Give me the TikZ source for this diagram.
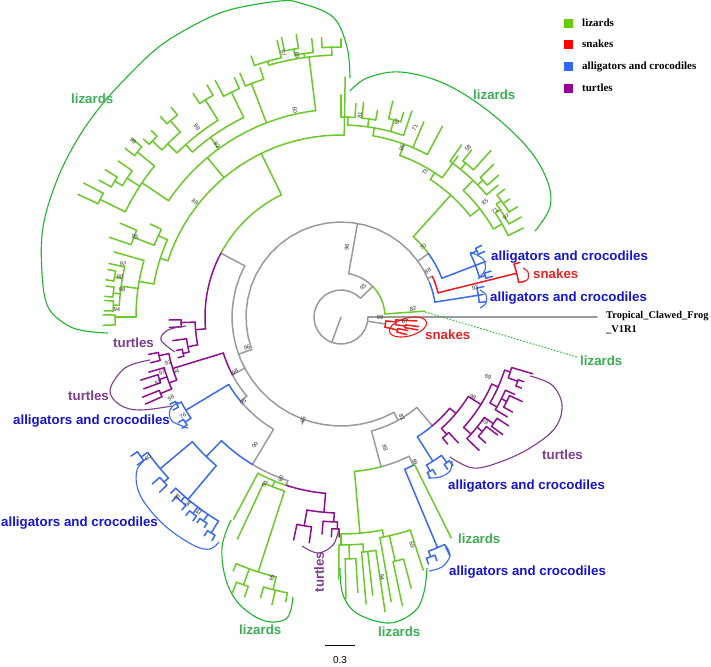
\documentclass[tikz,border=0pt]{standalone}
\usepackage{fontspec}
\setmainfont{Liberation Serif}
\newfontfamily\lsans{Liberation Sans}
\definecolor{grc}{HTML}{9B9B9B}
\definecolor{lzc}{HTML}{6CC92A}
\definecolor{snc}{HTML}{EE1C1C}
\definecolor{alc}{HTML}{3A6AF0}
\definecolor{tuc}{HTML}{8E108E}
\definecolor{lzl}{HTML}{3DAE55}
\definecolor{allab}{HTML}{1515CF}
\definecolor{snl}{HTML}{E52525}
\definecolor{tul}{HTML}{7E3D8E}
\definecolor{lze}{HTML}{1FB52D}
\definecolor{sqlz}{HTML}{66CC00}
\definecolor{sqsn}{HTML}{FF0000}
\definecolor{sqal}{HTML}{3366FF}
\definecolor{sqtu}{HTML}{990099}
\tikzset{
  tl/.style={line width=1.5pt, line cap=round, line join=round},
  elp/.style={line width=1.1pt},
  lab/.style={font=\fontsize{13.3}{15}\selectfont\lsans\bfseries, anchor=west, inner sep=0pt},
  bsl/.style={font=\fontsize{5.8}{6}\selectfont\lsans, text=black!80, inner sep=0pt},
  leg/.style={font=\fontsize{11}{13}\selectfont\bfseries, anchor=west, inner sep=0pt},
}
\newcommand\Rd[3]{\draw (#1:#2) -- (#1:#3);}
\newcommand\Ar[3]{\draw plot[domain=#2:#3,samples=24] (\x:#1);}
\newcommand\Ch[4]{\Ar{#1}{#2}{#3}\Rd{#2}{#1}{#4}\Rd{#3}{#1}{#4}}
\newcommand\bsv[3]{\pgfmathsetmacro\bsang{atan2(#2-317,#1-341)}\pgfmathsetmacro\bsrot{mod(-\bsang+450,180)-90}\node[bsl,rotate=\bsrot] at (#1,#2) {#3};}
\begin{document}
\begin{tikzpicture}[x=1pt,y=-1pt]
\useasboundingbox (0,0) rectangle (711,666);
\fill[white] (0,0) rectangle (711,666);
\begin{scope}[shift={(341,317)}]
% ---------------- gray backbone
\begin{scope}[tl,draw=grc]
\Rd{110}{0}{27}
\Ar{27}{0}{315}
\Rd{0}{27}{256}
\Rd{9}{27}{45}
\Rd{316}{27}{44}
\Ar{44}{280}{316}
\Rd{280}{44}{95}
\Ar{95}{160}{339}
\Rd{160}{95}{109}
\Ar{109}{61}{208}
\Rd{208}{109}{136}
\Rd{324}{95}{108}
\Rd{336}{95}{100}
\Rd{152}{109}{123}
\Ar{123}{140}{152}
\Rd{140}{123}{131}
\Ar{131}{121}{140}
\Rd{121}{131}{172}
\Ar{172}{108}{121}
\Rd{108}{172}{177}
\Rd{110}{109}{114}
\Rd{61}{109}{118}
\Ar{118}{50}{75}
\Rd{50}{118}{142}
\Rd{75}{118}{155}
\Ar{155}{64}{75}
\Rd{64}{155}{165}
\end{scope}
% ---------------- lizards (green)
\begin{scope}[tl,draw=lzc]
\Ar{44}{316}{356}
\Rd{356}{44}{84}
% upper-left clade
\Ar{136}{208}{244}
\Rd{244}{136}{182}
\Ar{182}{198}{271}
\Rd{271}{182}{240}
\Rd{230}{182}{208}
\Ar{208}{214}{263}
\Rd{263}{208}{262}
\Ar{262}{254}{268}
\Rd{268}{262}{270}\Ar{270}{266}{270}\Rd{266}{270}{280}\Rd{270}{270}{278}
\Rd{262}{262}{266}\Ar{266}{260}{264}\Rd{264}{266}{280}\Rd{260}{266}{272}\Ch{272}{258}{261}{286}
\Rd{254}{262}{266}\Ar{266}{251}{257}\Rd{251}{266}{276}\Rd{257}{266}{284}
\Rd{249}{208}{250}\Ar{250}{247.5}{252}\Rd{252}{250}{262}\Rd{247.5}{250}{264}
\Rd{234}{208}{222}\Ar{222}{228}{244}
\Rd{244}{222}{250}\Ar{250}{242}{246}\Rd{246}{250}{262}\Rd{242}{250}{268}
\Rd{228}{222}{232}\Ar{232}{225}{238}
\Rd{238}{232}{256}\Ch{256}{236.5}{240}{268}
\Rd{225}{232}{245}\Ar{245}{223}{229}\Rd{229}{245}{260}\Ch{260}{228}{231}{270}\Rd{223}{245}{258}\Ch{258}{222}{224.5}{266}
\Rd{214}{208}{240}\Ar{240}{206}{219}
\Rd{219}{240}{262}\Ch{262}{218}{220.5}{274}
\Rd{213}{240}{255}\Ar{255}{211}{215}\Rd{215}{255}{272}\Rd{211}{255}{264}\Ch{264}{209.5}{212}{278}
\Rd{206}{240}{268}\Ch{268}{205}{207.5}{290}
\Rd{198}{182}{190}\Ar{190}{190}{204}
\Rd{204}{190}{200}\Ar{200}{201}{206}\Rd{206}{200}{212}\Rd{201}{200}{222}\Ar{222}{199}{203}\Rd{203}{222}{240}\Rd{199}{222}{245}
\Rd{190}{190}{205}\Ar{205}{180}{196}
\Rd{196}{205}{236}
\Rd{188}{205}{222}\Ar{222}{183}{193}\Rd{193}{222}{238}\Rd{190}{222}{230}\Ch{230}{189}{191.5}{238}\Rd{186}{222}{229}\Ch{229}{185}{187.5}{237}\Rd{183}{222}{228}\Ch{228}{181.5}{184}{237}
\Rd{180}{205}{226}\Ch{226}{178}{180.5}{238}
% upper-right clade
\Ar{108}{312}{324}
\Rd{312}{108}{164}
\Ar{164}{303}{322}
\Rd{322}{164}{176}\Ar{176}{314}{330}
\Rd{314}{176}{190}\Ar{190}{305}{320}\Rd{305}{190}{210}
\Rd{309}{190}{198}\Ar{198}{308}{312}\Rd{308}{198}{212}\Rd{312}{198}{224}
\Rd{316}{190}{197}\Ar{197}{315}{318}\Rd{315}{197}{216}\Rd{318}{197}{212}
\Rd{320}{190}{205}
\Rd{330}{176}{186}\Ar{186}{326}{334}\Rd{334}{186}{203}
\Rd{326}{186}{192}\Ar{192}{324}{331}\Rd{331}{192}{206}
\Rd{324}{192}{198}\Ar{198}{322}{328}\Rd{322}{198}{208}\Rd{325}{198}{206}\Rd{328}{198}{208}
\Rd{303}{164}{172}\Ar{172}{290}{306}
\Rd{306}{172}{199}
\Rd{290}{172}{184}\Ar{184}{280}{298}
\Rd{298}{184}{216}\Rd{293}{184}{212}
\Rd{280}{184}{192}\Ar{192}{272}{289}
\Rd{289}{192}{218}
\Rd{285}{192}{204}\Ar{204}{283.5}{287}\Rd{283.5}{204}{222}\Rd{287}{204}{214}
\Rd{278}{192}{200}\Ar{200}{276}{280}\Rd{276}{200}{216}\Rd{280}{200}{210}
\Rd{272}{192}{200}\Ar{200}{270}{274}\Rd{270}{200}{222}\Rd{274}{200}{214}
% lower-left clade
\Ar{177}{108}{118}
\Rd{118}{177}{229}
\Rd{112}{177}{183}\Ar{183}{108}{115}
\Rd{115}{183}{245}
\Rd{108}{183}{268}\Ar{268}{104}{113}
\Rd{113}{268}{276}
\Rd{104}{268}{281}\Ar{281}{101}{106}\Rd{101}{281}{290}\Rd{103.5}{281}{296}\Rd{106}{281}{292}
\Rd{110}{268}{285}\Ch{285}{109}{111.5}{296}
% lower-right clade
\Ar{155}{75}{85}
\Rd{85}{155}{217}
\Ar{217}{79}{90}
\Rd{90}{217}{228}\Ar{228}{84.5}{90.5}
\Rd{90.5}{228}{262}
\Rd{88}{228}{242}\Ar{242}{86.5}{89}\Rd{89}{242}{282}\Rd{86.5}{242}{276}
\Rd{84.5}{228}{236}\Ar{236}{81.5}{85}\Rd{85}{236}{288}\Rd{83.5}{236}{280}\Rd{81.5}{236}{298}
\Rd{79}{217}{224}\Ar{224}{72}{80}
\Rd{80}{224}{289}
\Rd{77.5}{224}{250}\Ar{250}{75.5}{78}\Rd{78}{250}{295}\Rd{75.5}{250}{280}
\Rd{72}{224}{266}
\Rd{63.5}{165}{247}
\end{scope}
% ---------------- snakes (red)
\begin{scope}[tl,draw=snc]
\Ar{45}{5}{13}
\Rd{13}{45}{58}\Ch{58}{11.5}{15}{68}
\Rd{5}{45}{55}\Ar{55}{3}{8}\Rd{3}{55}{76}\Rd{8}{55}{65}\Ch{65}{7}{9.5}{78}
\Ar{100}{336}{346}
\Rd{346}{100}{181}
\Ar{181}{343}{349}\Rd{343}{181}{187}\Rd{349}{181}{187}
\end{scope}
% ---------------- alligators (blue)
\begin{scope}[tl,draw=alc]
\Ar{108}{324}{339}
\Rd{339}{108}{144}
\Ar{144}{334}{344}\Rd{334}{144}{151}\Ch{151}{333}{335.5}{158}\Rd{344}{144}{150}\Ch{150}{343}{345}{157}\Rd{339}{144}{155}
\Ar{95}{339}{351}
\Rd{351}{95}{139}
\Ar{139}{348}{354}\Rd{348}{139}{146}\Rd{354}{139}{146}\Rd{351}{139}{144}
\Ar{142}{50}{57.5}
\Rd{57.5}{142}{171}
\Ar{171}{54}{60}\Rd{60}{171}{178}\Ch{178}{59}{61}{184}\Rd{54}{171}{180}\Ch{180}{53}{55}{186}
\Ar{165}{64}{67.3}
\Rd{67.3}{165}{250}
\Ar{250}{65.5}{69.5}\Rd{69.5}{250}{256}\Ch{256}{68.5}{70.5}{262}\Rd{65.5}{250}{262}
\Ar{131}{140}{149}
\Rd{149}{131}{181}
\Ar{181}{146}{152}\Rd{146}{181}{188}\Ch{188}{145}{147}{194}\Rd{152}{181}{186}\Ch{186}{151}{153}{192}
\Ar{172}{121}{134}
\Rd{134}{172}{194}
\Ar{194}{130}{140}
\Rd{140}{194}{236}
\Rd{130}{194}{238}
\Ar{236}{137}{145}\Rd{145}{236}{244}\Ch{244}{144}{146.5}{252}\Rd{137}{236}{242}\Ch{242}{136}{138.5}{252}
\Ar{238}{121}{134}\Rd{134}{238}{245}
\Rd{131}{238}{244}\Ch{244}{129.5}{132.5}{250}
\Rd{127}{238}{246}\Ch{246}{126}{128}{252}
\Rd{124}{238}{246}\Ch{246}{123}{125}{251}
\Rd{121}{238}{252}\Ch{252}{120}{122}{258}
\end{scope}
% ---------------- turtles (purple)
\begin{scope}[tl,draw=tuc]
\Ar{136}{175}{208}
\Rd{175}{136}{146}\Ar{146}{169}{178}
\Rd{178}{146}{160}\Ch{160}{176.5}{179}{172}
\Rd{169}{146}{156}\Ar{156}{167}{172}\Rd{172}{156}{170}\Rd{167}{156}{162}\Ch{162}{166}{168.5}{168}
\Ar{123}{152}{163}
\Rd{163}{123}{176}
\Ar{176}{159}{168}
\Rd{168}{176}{186}\Ch{186}{166.5}{169}{196}
\Rd{159}{176}{184}\Ar{184}{157}{164}\Rd{164}{184}{200}
\Rd{161}{184}{192}\Ch{192}{160}{162.5}{210}
\Rd{157}{184}{196}\Ch{196}{156}{158}{214}
\Ar{177}{95}{108}
\Rd{95}{177}{196}
\Ar{196}{92}{100}
\Rd{100}{196}{212}\Ch{212}{98}{102}{228}
\Rd{92}{196}{205}\Ar{205}{91}{95}\Rd{95}{205}{218}\Rd{91}{205}{212}\Ch{212}{90.5}{92.5}{220}
\Ar{142}{40}{50}
\Rd{40}{142}{150}\Ar{150}{32}{48}
\Rd{48}{150}{158}\Ar{158}{47}{50}\Rd{47}{158}{172}\Rd{50}{158}{166}
\Rd{32}{150}{165}\Ar{165}{24}{42}
\Rd{42}{165}{175}\Ar{175}{35}{44}\Rd{44}{175}{192}
\Rd{39}{175}{182}\Ar{182}{37}{41}\Rd{37}{182}{196}\Rd{41}{182}{192}
\Rd{35}{175}{186}\Ch{186}{33}{36}{200}
\Rd{24}{165}{172}\Ar{172}{18}{30}
\Rd{18}{172}{178}\Ar{178}{16.5}{20}\Rd{16.5}{178}{200}\Rd{20}{178}{188}\Ch{188}{19.5}{21.5}{194}
\Rd{30}{172}{180}\Ar{180}{24}{31}\Rd{31}{180}{194}
\Rd{27}{180}{186}\Ar{186}{25}{29}\Rd{25}{186}{200}\Rd{29}{186}{196}
\Rd{24}{180}{190}
\end{scope}
\end{scope}
% ---------------- clade outlines
\draw[elp,lze] plot[smooth,tension=0.6] coordinates {(350,78) (347,47) (333,17) (300,3) (280,1) (233,9) (200,22) (160,46) (127,77) (100,107) (77,140) (57,180) (43,227) (42,273) (48,307) (67,325) (85,331) (108,333)};
\draw[elp,lze] plot[smooth,tension=0.6] coordinates {(350,91) (367,78) (400,72) (443,83) (487,110) (527,147) (547,180) (550,207) (535,231)};
\draw[elp,lze] plot[smooth,tension=0.6] coordinates {(231,520) (222,547) (226,580) (240,605) (265,621) (287,618) (293,597)};
\draw[elp,lze] plot[smooth,tension=0.6] coordinates {(340,568) (343,595) (358,614) (390,623) (415,611) (424,592) (427,568)};
\draw[elp,alc] plot[smooth,tension=0.6] coordinates {(147,458) (137,470) (138,490) (150,510) (170,530) (195,546) (210,549) (219,542)};
\draw[elp,alc] plot[smooth,tension=0.6] coordinates {(178,402) (170,410) (172,421) (188,428)};
\draw[elp,alc] plot[smooth,tension=0.6] coordinates {(452,461) (450,471) (440,477) (428,478)};
\draw[elp,alc] plot[smooth,tension=0.6] coordinates {(446,546) (450,556) (442,567) (429,571)};
\draw[elp,alc] plot[smooth,tension=0.6] coordinates {(470,252) (483,259) (485,270) (478,279)};
\draw[elp,alc] plot[smooth,tension=0.6] coordinates {(480,290) (486,295) (486,303) (480,308)};
\draw[elp,snc] plot[smooth,tension=0.6] coordinates {(523,268) (528,272) (528,279) (522,282)};
\draw[elp,snc,shift={(408,327)},rotate=15] plot[domain=0:360,samples=60] ({19*cos(\x)},{9*sin(\x)});
\draw[elp,tul] plot[smooth,tension=0.6] coordinates {(530,376) (552,385) (562,405) (555,428) (530,448) (500,462) (473,468) (450,457)};
\draw[elp,tul] plot[smooth,tension=0.6] coordinates {(150,360) (125,368) (110,390) (120,405) (140,410) (172,406)};
\draw[elp,tul] plot[smooth,tension=0.6] coordinates {(186,326) (168,330) (161,340) (175,352)};
\draw[elp,tul] plot[smooth,tension=0.6] coordinates {(302,546) (318,553) (333,545) (339,529)};
\draw[lze,line width=0.9pt,dash pattern=on 1.6pt off 1.6pt] (425,312) -- (577,357);
% ---------------- clade labels
\node[lab,text=lzl] at (71,99) {lizards};
\node[lab,text=lzl] at (473,95) {lizards};
\node[lab,text=lzl] at (580,361) {lizards};
\node[lab,text=lzl] at (458,539) {lizards};
\node[lab,text=lzl] at (239,630) {lizards};
\node[lab,text=lzl] at (378,632) {lizards};
\node[lab,text=allab] at (491,257) {alligators and crocodiles};
\node[lab,text=allab] at (490,298) {alligators and crocodiles};
\node[lab,text=allab] at (448,486) {alligators and crocodiles};
\node[lab,text=allab] at (449,572) {alligators and crocodiles};
\node[lab,text=allab] at (1,523) {alligators and crocodiles};
\node[lab,text=allab] at (13,421) {alligators and crocodiles};
\node[lab,text=snl] at (533,274) {snakes};
\node[lab,text=snl] at (425,335) {snakes};
\node[lab,text=tul] at (542,455) {turtles};
\node[lab,text=tul] at (113,343) {turtles};
\node[lab,text=tul] at (68,396) {turtles};
\node[lab,text=tul,anchor=center,rotate=90] at (319,572) {turtles};
\node[font=\fontsize{10.4}{12}\selectfont\bfseries,anchor=west,inner sep=0pt] at (606,316) {Tropical\_Clawed\_Frog};
\node[font=\fontsize{10.4}{12}\selectfont\bfseries,anchor=west,inner sep=0pt] at (606,330) {\_V1R1};
% ---------------- legend
\fill[sqlz] (564,19) rectangle (573,28);
\fill[sqsn] (564,40) rectangle (573,49);
\fill[sqal] (564,62) rectangle (573,71);
\fill[sqtu] (564,84) rectangle (573,93);
\node[leg] at (582,23) {lizards};
\node[leg] at (582,44) {snakes};
\node[leg] at (582,67) {alligators and crocodiles};
\node[leg] at (582,88) {turtles};
% ---------------- scale bar
\draw[line width=1pt] (325,645) -- (355,645);
\node[font=\fontsize{10}{12}\selectfont\lsans,inner sep=0pt] at (340,660) {0.3};
% ---------------- bootstrap values
\bsv{347}{247}{96}\bsv{363}{287}{93}\bsv{380}{317}{99}\bsv{413}{309}{82}\bsv{405}{322}{67}
\bsv{423}{247}{70}\bsv{428}{271}{88}\bsv{475}{288}{93}
\bsv{425}{172}{73}\bsv{402}{148}{95}\bsv{397}{122}{97}\bsv{360}{115}{81}\bsv{415}{128}{71}\bsv{468}{148}{58}\bsv{485}{202}{85}\bsv{495}{211}{71}\bsv{506}{217}{97}
\bsv{283}{53}{97}\bsv{297}{55}{69}\bsv{295}{110}{60}\bsv{197}{127}{98}\bsv{217}{145}{92}\bsv{133}{141}{99}\bsv{195}{202}{88}\bsv{135}{237}{95}\bsv{123}{264}{92}\bsv{120}{277}{90}\bsv{122}{290}{98}\bsv{117}{310}{94}
\bsv{247}{348}{96}\bsv{235}{372}{98}\bsv{243}{402}{95}\bsv{303}{420}{95}\bsv{255}{445}{99}\bsv{265}{484}{91}\bsv{281}{479}{60}\bsv{402}{417}{82}\bsv{385}{448}{88}\bsv{415}{462}{69}\bsv{412}{545}{69}
\bsv{171}{398}{98}\bsv{183}{416}{76}\bsv{168}{363}{92}\bsv{162}{373}{97}\bsv{158}{383}{93}\bsv{176}{372}{94}\bsv{148}{458}{60}\bsv{177}{497}{98}\bsv{188}{504}{94}\bsv{199}{512}{82}\bsv{272}{578}{95}
\bsv{382}{577}{94}\bsv{488}{377}{69}\bsv{473}{397}{98}\bsv{485}{422}{69}
\end{tikzpicture}
\end{document}
